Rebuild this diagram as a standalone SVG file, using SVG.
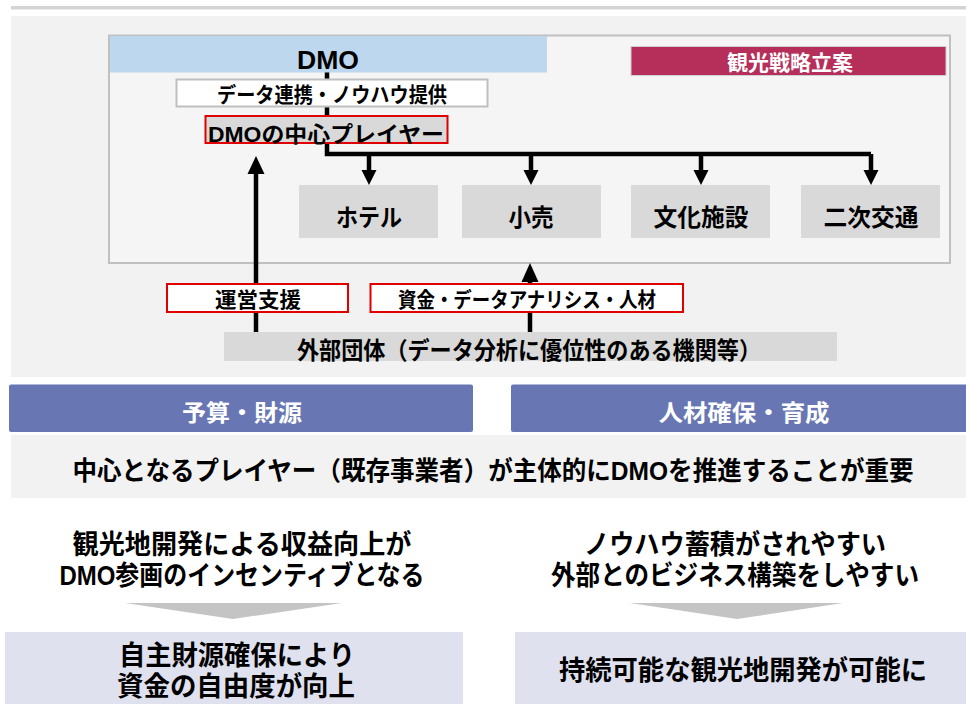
<svg xmlns="http://www.w3.org/2000/svg" width="966" height="704" viewBox="0 0 966 704">
<style>
text{font-family:"Liberation Sans","Noto Sans CJK JP",sans-serif;font-weight:700;fill:#000;text-anchor:middle}
.w{fill:#fff}
.gray{fill:#d9d9d9}
.red{fill:#fff;stroke:#e00000;stroke-width:2}
.blue{fill:#6877b3}
.lav{fill:#dfe1ee}
.conn{fill:none;stroke:#000;stroke-width:4.5}
.head{fill:#000}
</style>
<rect x="11" y="6" width="955" height="3.5" fill="#d4d4d4"/>
<rect x="11" y="16" width="955" height="361" fill="#f2f2f2"/>
<rect id="frame" x="109" y="35.5" width="841" height="227.5" fill="#f5f5f5" stroke="#c0c0c0" stroke-width="2"/>
<g id="connectors">
<path class="conn" d="M327 72V154H871"/>
<path class="conn" d="M369 154V172M531 154V172M701 154V172M871 154V172"/>
<polygon class="head" points="361.5,170 376.5,170 369,185"/>
<polygon class="head" points="523.5,170 538.5,170 531,185"/>
<polygon class="head" points="693.5,170 708.5,170 701,185"/>
<polygon class="head" points="863.5,170 878.5,170 871,185"/>
<path class="conn" d="M256 333V170"/>
<polygon class="head" points="247.5,174 264.5,174 256,156"/>
<path class="conn" d="M530 333V278"/>
<polygon class="head" points="521.5,282 538.5,282 530,263"/>
</g>
<g id="dmo">
<rect x="110" y="36" width="437" height="36.5" fill="#bdd7ee"/>
<text x="328" y="68.5" font-size="26" textLength="62" lengthAdjust="spacingAndGlyphs">DMO</text>
</g>
<g id="strategy">
<rect x="631" y="46.5" width="315" height="29" fill="#b52f5a" stroke="#d0d0d0" stroke-width="1"/>
<text class="w" x="790" y="69.5" font-size="21" textLength="126" lengthAdjust="spacingAndGlyphs">観光戦略立案</text>
</g>
<g id="data-link">
<rect x="176.5" y="79.5" width="311" height="27" fill="#fff" stroke="#bfbfbf" stroke-width="2"/>
<text x="332" y="102" font-size="21" textLength="230" lengthAdjust="spacingAndGlyphs">データ連携・ノウハウ提供</text>
</g>
<g id="core-player">
<rect x="205.5" y="116" width="242" height="27" fill="#d9d9d9" stroke="#e00000" stroke-width="2"/>
<text x="326" y="141.5" font-size="22" textLength="236" lengthAdjust="spacingAndGlyphs">DMOの中心プレイヤー</text>
</g>
<g id="hotel">
<rect class="gray" x="299" y="185" width="139" height="53"/>
<text x="369" y="226" font-size="24" textLength="66" lengthAdjust="spacingAndGlyphs">ホテル</text>
</g>
<g id="retail">
<rect class="gray" x="462" y="185" width="139" height="53"/>
<text x="531" y="226" font-size="24" textLength="45" lengthAdjust="spacingAndGlyphs">小売</text>
</g>
<g id="culture">
<rect class="gray" x="631" y="185" width="139" height="53"/>
<text x="701" y="226" font-size="24" textLength="95" lengthAdjust="spacingAndGlyphs">文化施設</text>
</g>
<g id="transport">
<rect class="gray" x="801" y="185" width="139" height="53"/>
<text x="871" y="226" font-size="24" textLength="95" lengthAdjust="spacingAndGlyphs">二次交通</text>
</g>
<g id="ops-support">
<rect class="red" x="167" y="284" width="181" height="28"/>
<text x="258" y="306.5" font-size="21" textLength="86" lengthAdjust="spacingAndGlyphs">運営支援</text>
</g>
<g id="funding">
<rect class="red" x="370.5" y="284" width="312.5" height="28"/>
<text x="527" y="306.5" font-size="21" textLength="258" lengthAdjust="spacingAndGlyphs">資金・データアナリシス・人材</text>
</g>
<g id="external">
<rect class="gray" x="224" y="332" width="613" height="29"/>
<text x="529" y="359" font-size="24" textLength="464" lengthAdjust="spacingAndGlyphs">外部団体（データ分析に優位性のある機関等）</text>
</g>
<g id="budget">
<rect class="blue" x="9" y="384.5" width="464" height="47.5" rx="2"/>
<text class="w" x="242" y="421" font-size="23" textLength="120" lengthAdjust="spacingAndGlyphs">予算・財源</text>
</g>
<g id="hr">
<rect class="blue" x="511" y="384.5" width="458" height="47.5" rx="2"/>
<text class="w" x="744" y="421" font-size="23" textLength="171" lengthAdjust="spacingAndGlyphs">人材確保・育成</text>
</g>
<g id="key-message">
<rect x="11" y="435" width="955" height="63" fill="#f2f2f2"/>
<text x="493" y="480" font-size="26" textLength="841" lengthAdjust="spacingAndGlyphs">中心となるプレイヤー（既存事業者）が主体的にDMOを推進することが重要</text>
</g>
<g id="left-reason">
<text x="242" y="554" font-size="27" textLength="339" lengthAdjust="spacingAndGlyphs">観光地開発による収益向上が</text>
<text x="242" y="585" font-size="27" textLength="365" lengthAdjust="spacingAndGlyphs">DMO参画のインセンティブとなる</text>
</g>
<g id="right-reason">
<text x="735" y="554" font-size="27" textLength="302" lengthAdjust="spacingAndGlyphs">ノウハウ蓄積がされやすい</text>
<text x="735" y="585" font-size="27" textLength="368" lengthAdjust="spacingAndGlyphs">外部とのビジネス構築をしやすい</text>
</g>
<g id="arrows-down">
<polygon points="125,603 342,603 233,619" fill="#c4c4c4"/>
<polygon points="630,603 843,603 737,619" fill="#c4c4c4"/>
</g>
<g id="left-result">
<rect class="lav" x="5" y="632" width="458" height="72"/>
<text x="237" y="665" font-size="27" textLength="236" lengthAdjust="spacingAndGlyphs">自主財源確保により</text>
<text x="236" y="696" font-size="27" textLength="238" lengthAdjust="spacingAndGlyphs">資金の自由度が向上</text>
</g>
<g id="right-result">
<rect class="lav" x="515" y="632" width="451" height="72"/>
<text x="743" y="680" font-size="27" textLength="368" lengthAdjust="spacingAndGlyphs">持続可能な観光地開発が可能に</text>
</g>
</svg>
